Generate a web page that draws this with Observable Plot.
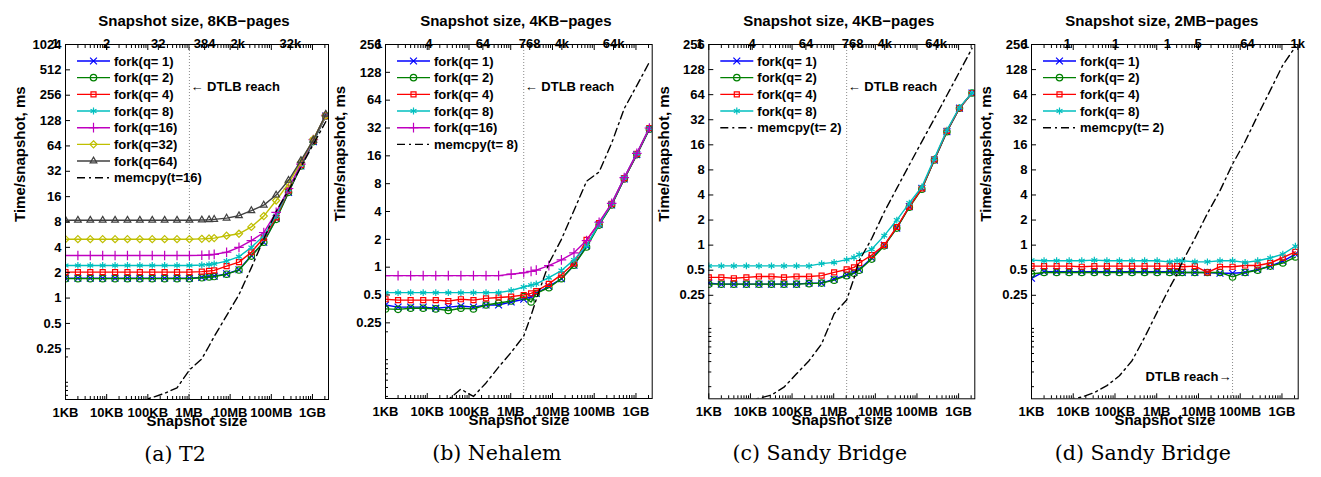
<!DOCTYPE html>
<html><head><meta charset="utf-8">
<script src="https://cdn.jsdelivr.net/npm/d3@7"></script>
<script src="https://cdn.jsdelivr.net/npm/@observablehq/plot@0.6"></script>
<style>
body{margin:0;background:#fff;}
#wrap{position:relative;width:1321px;height:477px;overflow:hidden;background:#fff;}
</style></head><body><div id="wrap"></div>
<script>
// ---------- data ----------
const sizesKB = [1,2,4,8,16,32,64,128,256,512,1024,2048,3072,4096,8192,16384,32768,65536,131072,262144,524288,1048576,2097152];
const xTickValues = [1,10,100,1e3,1e4,1e5,1e6];
const xTickLabels = ["1KB","10KB","100KB","1MB","10MB","100MB","1GB"];
const yTicksA = [0.25,0.5,1,2,4,8,16,32,64,128,256,512,1024];
const yTicksBCD = [0.25,0.5,1,2,4,8,16,32,64,128,256];
const yMinorAll = [0.2,0.1,0.09,0.08,0.07,0.06,0.05,0.04,0.03,0.02];

const topTicksA = [0.57,10,180,2400,15300,290000];
const topLabelsA = ["1","2","32","384","2k","32k"];
const topTicksB = [0.69,11,215,2850,16800,290000];
const topLabelsB = ["1","4","64","768","4k","64k"];
const topTicksC = [0.61,11,215,2850,16800,290000];
const topLabelsC = ["1","4","64","768","4k","64k"];
const topTicksD = [0.72,7.2,104,1800,9800,150000,2400000];
const topLabelsD = ["1","1","1","1","5","64","1k"];

// (a) T2
const a_q1  = [1.72,1.72,1.72,1.72,1.72,1.72,1.72,1.72,1.72,1.72,1.72,1.76,1.8,1.82,1.94,2.17,3.2,4.6,8.8,18,37,72,145];
const a_q2  = [1.70,1.70,1.70,1.70,1.70,1.70,1.70,1.70,1.70,1.70,1.70,1.74,1.78,1.8,1.92,2.15,3.15,4.6,8.6,18,37,72,145];
const a_q4  = [2.03,2.03,2.03,2.03,2.03,2.03,2.03,2.03,2.03,2.03,2.03,2.06,2.1,2.13,2.4,2.67,3.5,5.2,9.1,19,38,74,146];
const a_q8  = [2.44,2.44,2.44,2.44,2.44,2.44,2.44,2.44,2.44,2.44,2.44,2.47,2.5,2.55,2.75,3.1,4.0,5.5,9.5,19.5,38.5,74,147];
const a_q16 = [3.2,3.2,3.2,3.2,3.2,3.2,3.2,3.2,3.2,3.2,3.2,3.22,3.25,3.3,3.5,4.0,4.8,6.0,10.4,20,39,76,148];
const a_q32 = [5.0,5.0,5.0,5.0,5.0,5.0,5.0,5.0,5.0,5.0,5.0,5.05,5.1,5.15,5.5,5.8,7.0,9.4,14.4,23,41,77,148];
const a_q64 = [8.4,8.4,8.4,8.4,8.4,8.4,8.4,8.4,8.4,8.4,8.4,8.45,8.5,8.6,8.9,9.5,10.9,12.7,16.7,25,43,75,152];
const a_mem = [0.05,0.05,0.05,0.05,0.052,0.055,0.06,0.066,0.074,0.086,0.14,0.19,0.27,0.35,0.62,1.1,2.3,5.0,10.7,19,36,67,124];

// (b) Nehalem
const b_q1  = [0.39,0.37,0.37,0.37,0.36,0.37,0.38,0.37,0.39,0.39,0.42,0.45,0.48,0.52,0.62,0.75,1.05,1.7,2.9,4.7,9.0,16.5,31];
const b_q2  = [0.354,0.35,0.36,0.36,0.354,0.34,0.36,0.354,0.39,0.41,0.43,0.48,0.42,0.52,0.6,0.75,1.05,1.65,2.85,4.7,9.0,16.5,31];
const b_q4  = [0.45,0.44,0.44,0.44,0.44,0.43,0.45,0.44,0.46,0.47,0.48,0.5,0.52,0.55,0.66,0.83,1.1,1.97,3.0,4.85,9.2,16.8,32];
const b_q8  = [0.53,0.53,0.53,0.53,0.53,0.53,0.53,0.53,0.53,0.53,0.56,0.61,0.64,0.66,0.77,0.92,1.2,1.72,2.9,4.9,9.3,17,32];
const b_q16 = [0.81,0.81,0.81,0.81,0.81,0.81,0.81,0.81,0.81,0.81,0.84,0.87,0.9,0.93,1.04,1.2,1.43,1.94,3.06,4.9,9.3,17,32];
const b_mem = [0.03,0.03,0.03,0.03,0.032,0.037,0.048,0.04,0.056,0.083,0.12,0.18,0.3,0.45,1.1,2.0,4.1,8.5,10.7,22,52,92,165];

// (c) Sandy Bridge, 4KB pages
const c_q1  = [0.35,0.34,0.34,0.34,0.34,0.34,0.34,0.34,0.35,0.35,0.39,0.44,0.47,0.51,0.7,1.0,1.6,2.9,4.8,10.5,23,44,67];
const c_q2  = [0.34,0.34,0.34,0.34,0.34,0.34,0.34,0.34,0.345,0.35,0.38,0.43,0.46,0.5,0.68,0.98,1.6,2.85,4.7,10.5,23,44,67];
const c_q4  = [0.41,0.41,0.40,0.41,0.42,0.42,0.41,0.42,0.42,0.43,0.47,0.51,0.54,0.61,0.76,1.0,1.65,2.9,4.8,10.7,23.5,44,67];
const c_q8  = [0.563,0.563,0.563,0.563,0.563,0.563,0.563,0.563,0.563,0.6,0.62,0.67,0.71,0.77,0.89,1.3,2.0,3.2,5.0,11,24,45,67];
const c_mem = [0.013,0.013,0.0135,0.0138,0.0145,0.0159,0.0197,0.0285,0.041,0.065,0.15,0.22,0.4,0.65,1.2,2.5,4.8,9.2,17.5,33,63,120,230];

// (d) Sandy Bridge, 2MB pages
const d_q1  = [0.40,0.48,0.48,0.48,0.48,0.48,0.48,0.48,0.48,0.48,0.48,0.48,0.48,0.47,0.47,0.47,0.46,0.46,0.47,0.51,0.56,0.64,0.78];
const d_q2  = [0.45,0.47,0.47,0.47,0.47,0.47,0.47,0.47,0.47,0.47,0.47,0.47,0.47,0.47,0.47,0.47,0.47,0.415,0.47,0.5,0.56,0.61,0.72];
const d_q4  = [0.56,0.56,0.56,0.56,0.55,0.56,0.56,0.56,0.56,0.56,0.56,0.56,0.56,0.55,0.56,0.47,0.55,0.55,0.57,0.57,0.61,0.71,0.83];
const d_q8  = [0.66,0.65,0.65,0.65,0.65,0.66,0.65,0.65,0.65,0.65,0.65,0.63,0.65,0.65,0.63,0.63,0.65,0.65,0.62,0.65,0.7,0.78,0.97];
const d_mem = [0.012,0.012,0.013,0.014,0.015,0.017,0.0206,0.027,0.041,0.078,0.157,0.31,0.45,0.63,1.2,2.4,4.5,9.4,17.5,36,72,145,240];

// ---------- styles ----------
const styles = {
  q1:  {label:"fork(q= 1)", color:"#0000ff", symbol:"times"},
  q2:  {label:"fork(q= 2)", color:"#008000", symbol:"circle"},
  q4:  {label:"fork(q= 4)", color:"#ff0000", symbol:"square2"},
  q8:  {label:"fork(q= 8)", color:"#00bfbf", symbol:"asterisk"},
  q16: {label:"fork(q=16)", color:"#bf00bf", symbol:"plus"},
  q32: {label:"fork(q=32)", color:"#bfbf00", symbol:"diamond2"},
  q64: {label:"fork(q=64)", color:"#404040", symbol:"triangle2"}
};
const d3sym = {times:d3.symbolTimes, circle:d3.symbolCircle, square2:d3.symbolSquare2, asterisk:d3.symbolAsterisk,
  plus:d3.symbolPlus, diamond2:d3.symbolDiamond2, triangle2:d3.symbolTriangle2};
const FONT = "'Liberation Sans', Arial, Helvetica, sans-serif";
const MEMDASH = "8,4,2,4";
const LW = 1.4;

const panels = [
  {left:0, width:330, ml:65, mr:2, mb:78, yDomain:[0.0625,1024], yTicks:yTicksA,
   title:"Snapshot size, 8KB\u2212pages", topTicks:topTicksA, topLabels:topLabelsA, dtlb:1024, dtlbBottom:false,
   series:[["q1",a_q1],["q2",a_q2],["q4",a_q4],["q8",a_q8],["q16",a_q16],["q32",a_q32],["q64",a_q64]],
   memcpy:a_mem, memLabel:"memcpy(t=16)", caption:"(a) T2"},
  {left:330, width:325, ml:55, mr:3.3, mb:79, yDomain:[0.038,256], yTicks:yTicksBCD,
   title:"Snapshot size, 4KB\u2212pages", topTicks:topTicksB, topLabels:topLabelsB, dtlb:2048, dtlbBottom:false,
   series:[["q1",b_q1],["q2",b_q2],["q4",b_q4],["q8",b_q8],["q16",b_q16]],
   memcpy:b_mem, memLabel:"memcpy(t= 8)", caption:"(b) Nehalem"},
  {left:655, width:325, ml:53.3, mr:5.7, mb:78.7, yDomain:[0.0143,256], yTicks:yTicksBCD,
   title:"Snapshot size, 4KB\u2212pages", topTicks:topTicksC, topLabels:topLabelsC, dtlb:2048, dtlbBottom:false,
   series:[["q1",c_q1],["q2",c_q2],["q4",c_q4],["q8",c_q8]],
   memcpy:c_mem, memLabel:"memcpy(t= 2)", caption:"(c) Sandy Bridge"},
  {left:985, width:336, ml:46, mr:23.3, mb:78.7, yDomain:[0.0143,256], yTicks:yTicksBCD,
   title:"Snapshot size, 2MB\u2212pages", topTicks:topTicksD, topLabels:topLabelsD, dtlb:65536, dtlbBottom:true,
   series:[["q1",d_q1],["q2",d_q2],["q4",d_q4],["q8",d_q8]],
   memcpy:d_mem, memLabel:"memcpy(t= 2)", caption:"(d) Sandy Bridge"}
];

const xMinor = [];
for (let k = 0; k <= 6; k++) for (let m = 2; m <= 9; m++) { const v = m * Math.pow(10, k); if (v < 2.45e6) xMinor.push(v); }

function drawPanel(p) {
  const MT = 44;
  const xDomain = [1, 2.45e6];
  const xLab = new Map(xTickValues.map((v,i)=>[v, xTickLabels[i]]));
  const yMinor = yMinorAll.filter(v => v > p.yDomain[0]);
  const topInDomain = p.topTicks.filter(v => v >= xDomain[0] && v <= xDomain[1]);
  const marks = [];
  marks.push(Plot.ruleX([p.dtlb], {x: d=>d, stroke:"#8a8a8a", strokeDasharray:"1,2", strokeWidth:1}));
  p.series.forEach(([key, vals]) => {
    const st = styles[key];
    const data = sizesKB.map((x,i)=>({x, y: vals[i]}));
    marks.push(Plot.line(data, {x:"x", y:"y", stroke:st.color, strokeWidth:LW, clip:true}));
    marks.push(Plot.dot(data, {x:"x", y:"y", stroke:st.color, fill:"none", symbol:st.symbol, r:3.2, strokeWidth:1.2, clip:true}));
  });
  const mdata = sizesKB.map((x,i)=>({x, y:p.memcpy[i]}));
  marks.push(Plot.line(mdata, {x:"x", y:"y", stroke:"black", strokeWidth:LW, strokeDasharray:MEMDASH, clip:true}));
  marks.push(Plot.frame({stroke:"black", strokeWidth:1}));
  // bottom axis
  marks.push(Plot.axisX({anchor:"bottom", ticks:xTickValues, tickSize:0, tickPadding:8, tickFormat:d=>xLab.get(d), label:null, fontSize:13, fontWeight:"bold"}));
  marks.push(Plot.axisX({anchor:"bottom", ticks:xTickValues, tickSize:-5, fill:"none", label:null}));
  marks.push(Plot.axisX({anchor:"bottom", ticks:xMinor, tickSize:-3, fill:"none", label:null}));
  // top axis: mirrored ticks and page-count labels
  marks.push(Plot.axisX({anchor:"top", ticks:xTickValues, tickSize:-5, fill:"none", label:null}));
  marks.push(Plot.axisX({anchor:"top", ticks:xMinor, tickSize:-3, fill:"none", label:null}));
  marks.push(Plot.axisX({anchor:"top", ticks:topInDomain, tickSize:-5, fill:"none", label:null}));
  marks.push(Plot.text(p.topTicks, {x:d=>d, text:(d,i)=>p.topLabels[i], frameAnchor:"top", dy:-6, fontSize:13, fontWeight:"bold"}));
  // y axis
  marks.push(Plot.axisY({anchor:"left", ticks:p.yTicks, tickSize:0, tickPadding:4, tickFormat:d=>String(d), label:null, fontSize:13, fontWeight:"bold"}));
  marks.push(Plot.axisY({anchor:"left", ticks:p.yTicks, tickSize:-5, fill:"none", label:null}));
  marks.push(Plot.axisY({anchor:"left", ticks:yMinor, tickSize:-3, fill:"none", label:null}));
  // titles and labels
  marks.push(Plot.text([p.title], {text:d=>d, frameAnchor:"top", dy:-29, dx:-3, fontSize:15, fontWeight:"bold"}));
  marks.push(Plot.text(["Snapshot size"], {text:d=>d, frameAnchor:"bottom", dy:26.5, fontSize:15, fontWeight:"bold"}));
  marks.push(Plot.text(["Time/snapshot, ms"], {text:d=>d, frameAnchor:"left", rotate:-90, dx:-45, fontSize:15, fontWeight:"bold"}));
  marks.push(Plot.text([p.caption], {text:d=>d, frameAnchor:"bottom", dy:61, dx:-22, fontSize:20.5, fontWeight:"normal", fontFamily:"'DejaVu Serif', serif"}));
  if (p.dtlbBottom) {
    marks.push(Plot.text([p.dtlb], {x:d=>d, text:()=>"DTLB reach\u2192", frameAnchor:"bottom", dy:-18, dx:-1, textAnchor:"end", fontSize:13, fontWeight:"bold"}));
  } else {
    marks.push(Plot.text([p.dtlb], {x:d=>d, text:()=>"\u2190 DTLB reach", frameAnchor:"top", dy:37, dx:1, textAnchor:"start", fontSize:13, fontWeight:"bold"}));
  }
  const svg = Plot.plot({
    width:p.width, height:477,
    marginLeft:p.ml, marginRight:p.mr, marginTop:MT, marginBottom:p.mb,
    x:{type:"log", domain:xDomain, axis:null},
    y:{type:"log", base:2, domain:p.yDomain, axis:null},
    style:{fontFamily:FONT, fontSize:"13px", fontWeight:"bold", color:"black", background:"transparent", overflow:"visible"},
    marks
  });
  svg.style.position = "absolute";
  svg.style.left = p.left + "px";
  svg.style.top = "0px";
  // legend (drawn over the plot, in the same SVG)
  const entries = p.series.map(([key]) => ({...styles[key]})).concat([{label:p.memLabel, color:"black", dash:MEMDASH}]);
  const g = d3.select(svg).append("g").attr("font-family", FONT).attr("font-size", 13).attr("font-weight", "bold").attr("text-anchor", "start");
  entries.forEach((e, i) => {
    const y = MT + 17 + i * 16.67;
    const x0 = p.ml;
    g.append("line").attr("x1", x0 + 12).attr("x2", x0 + 45).attr("y1", y).attr("y2", y)
      .attr("stroke", e.color).attr("stroke-width", LW).attr("stroke-dasharray", e.dash || null);
    if (e.symbol) {
      g.append("path").attr("transform", `translate(${x0 + 28.5},${y})`)
        .attr("d", d3.symbol(d3sym[e.symbol], Math.PI * 3.2 * 3.2)()).attr("fill", "none").attr("stroke", e.color).attr("stroke-width", 1.2);
    }
    g.append("text").attr("x", x0 + 49).attr("y", y).attr("dy", "0.35em").attr("fill", "black").attr("text-anchor", "start").text(e.label);
  });
  document.getElementById("wrap").appendChild(svg);
}
panels.forEach(drawPanel);
</script>
</body></html>
